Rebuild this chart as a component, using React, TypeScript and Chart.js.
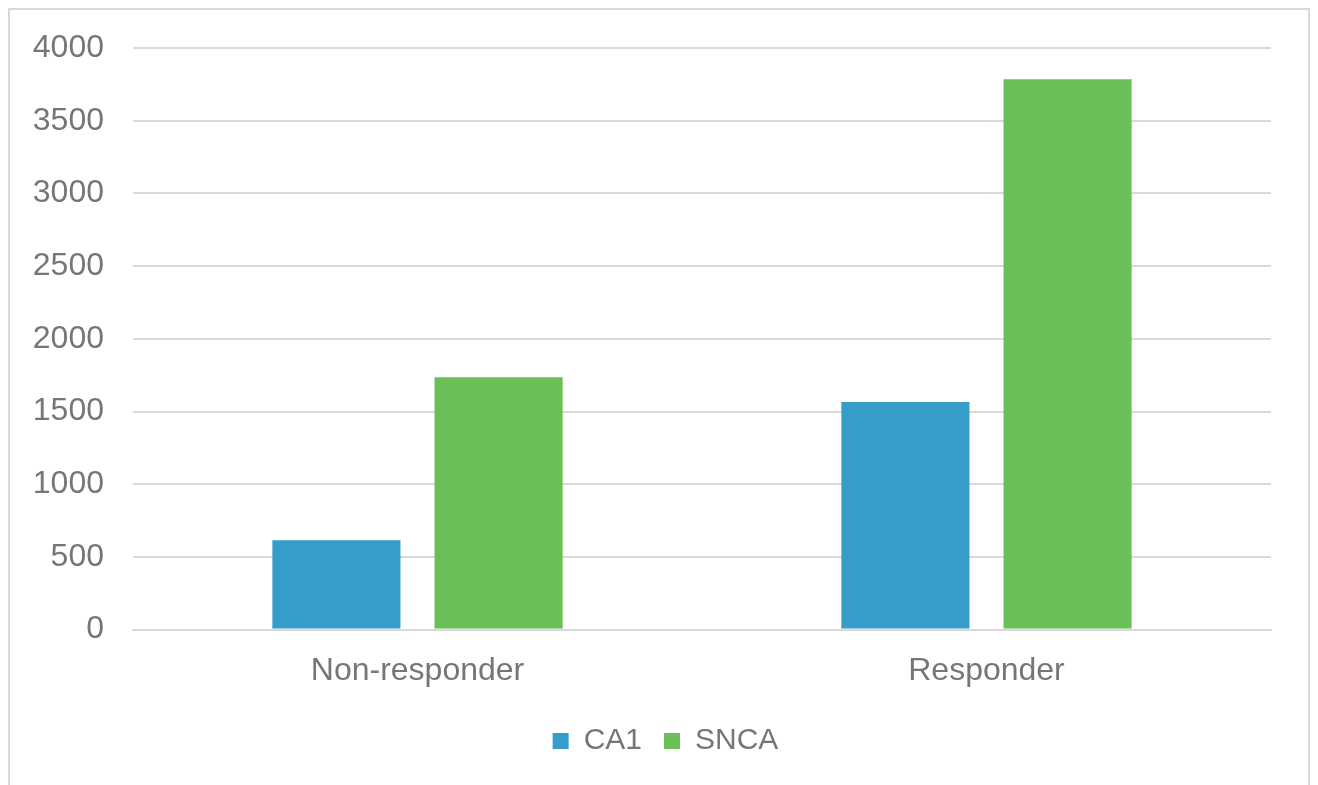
import React, { useEffect, useRef } from "react";
import { Chart, registerables } from "chart.js";

Chart.register(...registerables);

const categories = ["Non-responder", "Responder"];
const seriesNames = ["CA1", "SNCA"];
const ca1Values = [615, 1565];
const sncaValues = [1735, 3785];
const seriesColors = ["#359DCA", "#6ABF57"];

const TEXT = "#767676";
const GRID = "#D9D9D9";
const FONT = "'Liberation Sans', Arial, sans-serif";

const legendShift = {
  id: "legendShift",
  afterLayout(chart: any) {
    if (chart.legend) {
      chart.legend.left += 25;
      chart.legend.right += 25;
    }
  },
};

export default function App() {
  const ref = useRef<HTMLCanvasElement | null>(null);
  useEffect(() => {
    if (!ref.current) return;
    const chart = new Chart(ref.current, {
      type: "bar",
      data: {
        labels: categories,
        datasets: [
          { label: seriesNames[0], data: ca1Values, backgroundColor: seriesColors[0], borderWidth: 0 },
          { label: seriesNames[1], data: sncaValues, backgroundColor: seriesColors[1], borderWidth: 0 },
        ],
      },
      options: {
        animation: false,
        responsive: false,
        maintainAspectRatio: false,
        datasets: { bar: { categoryPercentage: 0.57, barPercentage: 0.79 } },
        layout: { padding: { top: 38, right: 37, left: 0, bottom: 34 } },
        plugins: {
          tooltip: { enabled: false },
          legend: {
            position: "bottom",
            labels: {
              color: TEXT,
              font: { family: FONT, size: 30 },
              boxWidth: 16,
              boxHeight: 16,
              padding: 22,
            },
          },
        },
        scales: {
          x: {
            grid: { display: false },
            border: { display: true, color: GRID, width: 2 },
            ticks: { color: TEXT, font: { family: FONT, size: 32 }, padding: 14 },
          },
          y: {
            min: 0,
            max: 4000,
            ticks: {
              stepSize: 500,
              color: TEXT,
              font: { family: FONT, size: 32 },
              padding: 29,
              callback: (v: any) => String(v),
            },
            grid: { color: GRID, lineWidth: 2, drawTicks: false },
            border: { display: false },
            afterFit: (s: any) => {
              s.width = 123;
              s.paddingTop = 10;
              s.paddingBottom = 10;
            },
          },
        },
      },
      plugins: [legendShift],
    });
    return () => chart.destroy();
  }, []);
  return (
    <div style={{ width: 1298, height: 790, border: "2px solid #D9D9D9", background: "#fff" }}>
      <canvas ref={ref} width={1298} height={790} style={{ display: "block" }} />
    </div>
  );
}
